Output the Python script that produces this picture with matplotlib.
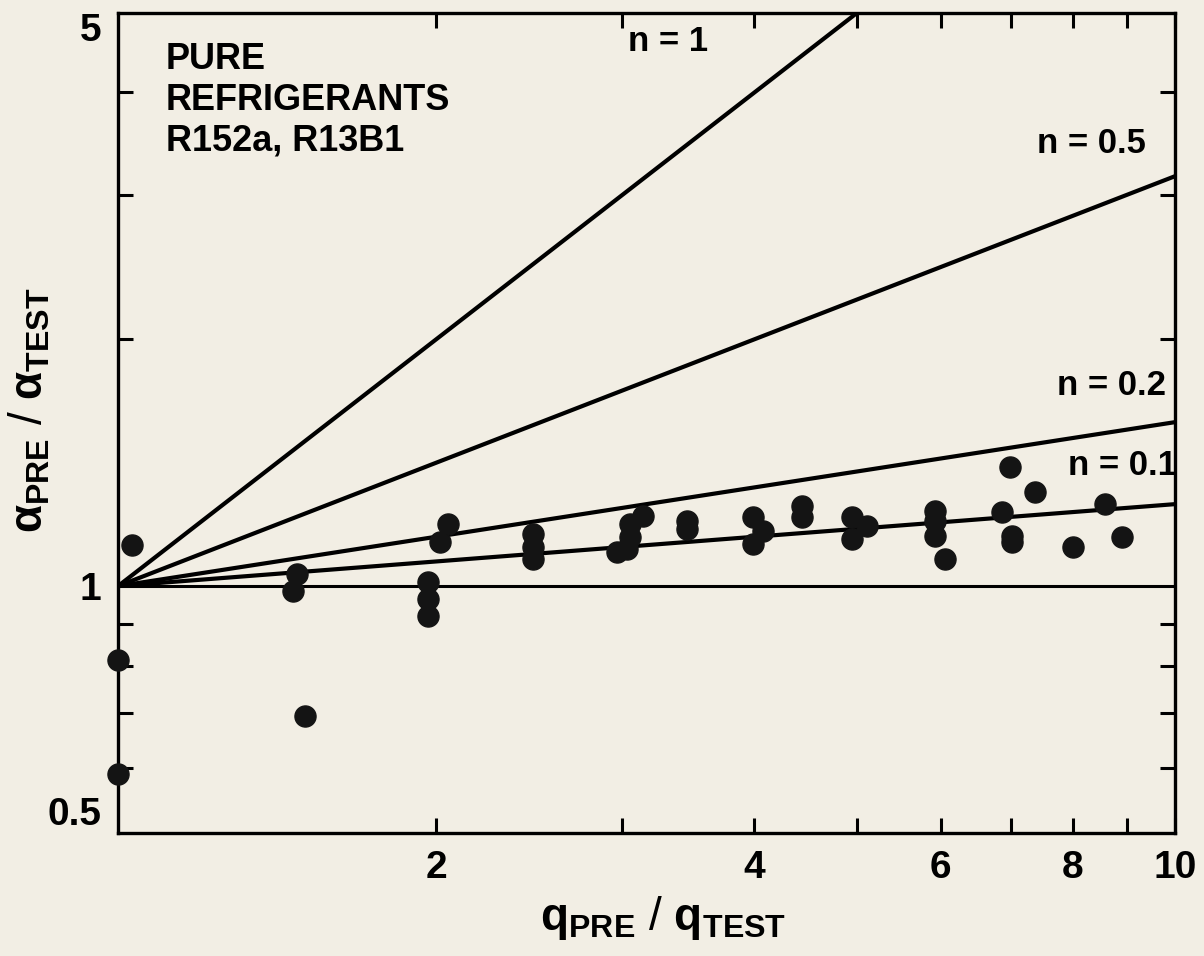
import matplotlib
matplotlib.use("Agg")
import matplotlib.pyplot as plt
import numpy as np
from matplotlib.ticker import FixedLocator, NullFormatter, FixedFormatter

plt.rcParams['font.family'] = ['Liberation Sans', 'DejaVu Sans']
plt.rcParams['font.weight'] = 'bold'
plt.rcParams['mathtext.fontset'] = 'custom'
plt.rcParams['mathtext.rm'] = 'Liberation Sans:bold'
plt.rcParams['mathtext.it'] = 'Liberation Sans:bold'
plt.rcParams['mathtext.bf'] = 'Liberation Sans:bold'

# Data
q_ratio = [1.0, 1.0, 1.031,
           1.477, 1.464, 1.503,
           1.965, 1.965, 1.965, 2.017, 2.052,
           2.470, 2.470, 2.470,
           2.966, 3.031, 3.051, 3.051, 3.138,
           3.454, 3.454,
           3.989, 3.989, 4.076,
           4.437, 4.437,
           4.948, 4.948, 5.113,
           5.929, 5.929, 5.929, 6.059,
           6.861, 7.013, 7.013, 6.982, 7.372,
           8.009, 8.587, 8.911]
alpha_ratio = [0.812, 0.590, 1.122,
               1.034, 0.986, 0.694,
               1.011, 0.964, 0.919, 1.131, 1.190,
               1.157, 1.116, 1.078,
               1.100, 1.109, 1.148, 1.190, 1.217,
               1.200, 1.174,
               1.214, 1.125, 1.167,
               1.252, 1.214,
               1.214, 1.141, 1.183,
               1.234, 1.200, 1.151, 1.078,
               1.231, 1.151, 1.131, 1.397, 1.302,
               1.116, 1.259, 1.148]
exponents = [1, 0.5, 0.2, 0.1]
line_labels = ["n = 1", "n = 0.5", "n = 0.2", "n = 0.1"]
label_pos = [(0.52, 0.965), (0.921, 0.841), (0.940, 0.546), (0.950, 0.448)]
x_ticks = [2, 4, 6, 8, 10]
x_ticklabels = ["2", "4", "6", "8", "10"]
y_ticks = [0.5, 1, 5]
y_ticklabels = ["0.5", "1", "5"]

bg = '#f2eee4'
fig = plt.figure(figsize=(12.04, 9.56), dpi=100, facecolor=bg)
ax = fig.add_axes([0.098, 0.1287, 0.878, 0.8577], facecolor=bg)
ax.set_xscale('log')
ax.set_yscale('log')
ax.set_xlim(1, 10)
ax.set_ylim(0.5, 5)

xs = np.logspace(0, 1, 300)
for n in exponents:
    ax.plot(xs, xs ** n, color='black', lw=3.0, solid_capstyle='round')
ax.axhline(1, color='black', lw=2.2)

ax.scatter(q_ratio, alpha_ratio, s=230, color='#141414', zorder=3, clip_on=False)

for lab, (px, py) in zip(line_labels, label_pos):
    ax.text(px, py, lab, transform=ax.transAxes, fontsize=25, ha='center', va='center')

ax.text(0.045, 0.965, "PURE\nREFRIGERANTS\nR152a, R13B1", transform=ax.transAxes,
        fontsize=26, ha='left', va='top', linespacing=1.22)

for sp in ax.spines.values():
    sp.set_linewidth(2.4)

ax.xaxis.set_major_locator(FixedLocator(x_ticks))
ax.xaxis.set_major_formatter(FixedFormatter(x_ticklabels))
ax.xaxis.set_minor_locator(FixedLocator([3, 5, 7, 9]))
ax.xaxis.set_minor_formatter(NullFormatter())
ax.yaxis.set_major_locator(FixedLocator(y_ticks))
ax.yaxis.set_major_formatter(FixedFormatter(y_ticklabels))
ax.yaxis.set_minor_locator(FixedLocator([0.6, 0.7, 0.8, 0.9, 2, 3, 4]))
ax.yaxis.set_minor_formatter(NullFormatter())

ax.tick_params(which='both', direction='in', top=True, right=True, width=2.2,
               labelsize=28, length=11)
ax.tick_params(axis='x', which='major', pad=12)
ax.tick_params(axis='y', which='major', pad=12, length=0)

ax.set_xlabel(r'$\mathrm{q_{PRE}}$ / $\mathrm{q_{TEST}}$', fontsize=33)
ax.xaxis.set_label_coords(0.516, -0.075)
ax.set_ylabel(r'$\alpha_{\mathrm{PRE}}$ / $\alpha_{\mathrm{TEST}}$', fontsize=33)
ax.yaxis.set_label_coords(-0.062, 0.515)

fig.canvas.draw()
ylabels = ax.yaxis.get_majorticklabels()
ylabels[0].set_va('bottom')
ylabels[2].set_va('top')

fig.savefig('out.png', dpi=100, facecolor=bg)
